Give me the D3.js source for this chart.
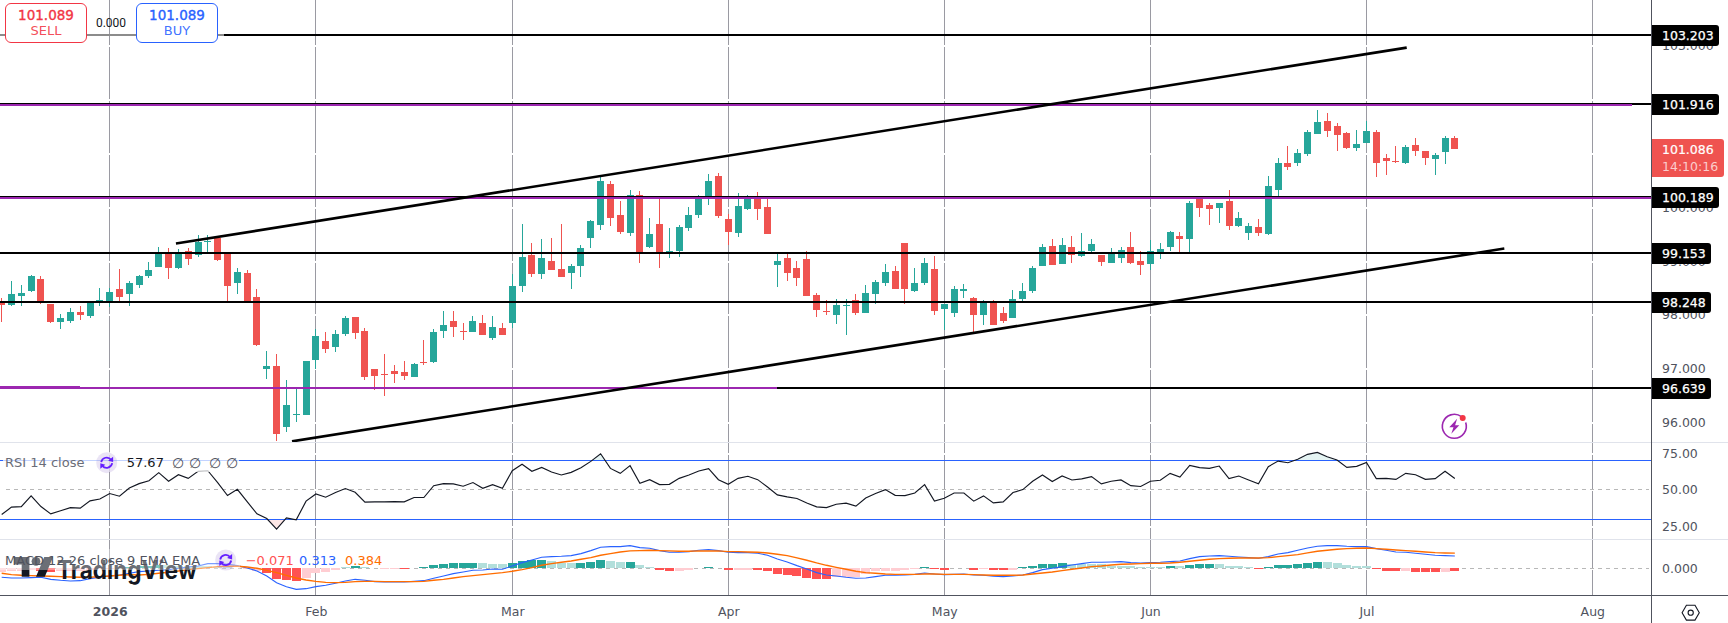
<!DOCTYPE html>
<html>
<head>
<meta charset="utf-8">
<title>DXY daily</title>
<script src="https://cdn.jsdelivr.net/npm/d3@7"></script>
<style>
  html, body { margin: 0; padding: 0; background: #fff; overflow: hidden; }
  svg { display: block; font-family: "DejaVu Sans", sans-serif; }
</style>
</head>
<body>
<svg id="chart" width="1728" height="623"></svg>
<script>
// Daily candles, one row per ten sessions.
const opens = [
  98.240,98.184,98.345,98.438,98.662,98.197,97.862,97.880,98.048,97.973,
  98.252,98.240,98.476,98.383,98.550,98.717,98.885,99.127,98.866,99.182,
  99.108,99.350,99.424,99.139,98.587,98.773,98.327,96.988,97.043,95.927,
  96.132,96.132,97.155,97.508,97.397,97.639,97.955,97.694,96.988,96.895,
  96.950,96.932,96.839,97.119,97.119,97.693,97.879,97.693,97.675,97.842,
  97.563,97.749,97.842,98.530,99.107,98.754,98.995,98.847,98.772,98.902,
  99.423,99.665,100.428,99.851,99.516,100.223,99.256,99.684,99.157,99.181,
  99.609,99.851,100.149,100.576,99.777,99.516,99.963,100.149,100.000,98.921,
  99.051,98.865,99.033,98.363,98.065,97.991,98.158,98.270,98.028,98.382,
  98.586,98.809,99.330,98.437,98.586,98.847,98.103,98.028,98.437,98.307,
  97.991,98.233,98.028,97.935,98.289,98.437,98.902,99.274,98.940,99.256,
  99.088,99.181,99.107,98.958,99.051,99.256,98.995,98.939,99.162,99.255,
  99.459,99.404,100.148,100.036,99.980,100.110,99.645,99.515,99.627,99.497,
  100.315,100.817,100.817,100.985,101.357,101.598,101.505,101.375,101.096,101.189,
  101.394,100.910,100.854,100.817,101.152,101.040,100.892,101.022,101.282
];
const highs = [
  98.308,98.624,98.550,98.736,98.717,98.197,98.011,98.122,98.159,98.215,
  98.494,98.494,98.848,98.624,98.736,98.978,99.257,99.238,99.220,99.238,
  99.480,99.480,99.424,99.139,98.866,98.829,98.476,97.322,97.267,96.783,
  96.616,97.136,97.732,97.676,97.713,97.973,97.955,97.750,96.988,97.267,
  97.062,97.136,97.099,97.528,97.733,98.065,98.065,97.842,97.972,97.991,
  97.972,97.842,98.754,99.684,99.330,99.405,99.423,99.684,98.940,99.293,
  99.758,100.558,100.483,100.111,100.316,100.297,99.795,100.149,99.609,99.665,
  100.000,100.223,100.614,100.632,99.870,100.260,100.223,100.279,100.149,99.138,
  99.126,98.995,99.181,98.400,98.270,98.289,98.289,98.382,98.549,98.642,
  98.940,98.902,99.330,98.865,99.051,99.088,98.196,98.530,98.568,98.326,
  98.270,98.270,98.140,98.456,98.586,98.902,99.312,99.405,99.423,99.460,
  99.516,99.405,99.107,99.237,99.256,99.535,99.181,99.385,99.329,99.552,
  99.534,100.110,100.191,100.073,100.073,100.315,99.906,99.701,99.776,100.575,
  100.910,101.133,101.078,101.431,101.803,101.747,101.561,101.394,101.431,101.598,
  101.431,100.985,101.133,101.152,101.282,101.040,101.003,101.319,101.319
];
const lows = [
  97.868,98.166,98.166,98.420,98.203,97.849,97.738,97.849,97.905,97.942,
  98.166,98.147,98.252,98.166,98.500,98.680,98.885,98.662,98.848,98.922,
  99.071,99.151,98.996,98.252,98.383,98.252,97.415,96.802,95.667,95.834,
  96.002,96.132,96.988,97.285,97.304,97.601,97.546,96.783,96.597,96.485,
  96.727,96.783,96.839,97.064,97.100,97.563,97.582,97.526,97.675,97.619,
  97.526,97.619,97.749,98.419,98.698,98.661,98.828,98.698,98.475,98.698,
  99.237,99.572,99.646,99.498,99.460,98.958,99.237,98.865,99.051,99.070,
  99.553,99.795,100.037,99.795,99.293,99.442,99.944,99.758,99.498,98.512,
  98.623,98.530,98.344,97.954,97.991,97.824,97.619,97.991,98.028,98.196,
  98.530,98.475,98.196,98.419,98.549,97.991,97.712,97.954,98.307,97.675,
  97.805,97.805,97.842,97.935,98.251,98.400,98.902,98.921,98.940,98.958,
  99.070,99.163,98.902,98.958,98.958,98.940,98.735,98.827,99.032,99.180,
  99.162,99.162,99.813,99.664,99.701,99.571,99.627,99.385,99.459,99.478,
  100.203,100.687,100.761,100.947,101.357,101.301,101.040,101.078,101.040,101.189,
  100.557,100.594,100.817,100.799,100.947,100.780,100.594,100.799,101.086
];
const closes = [
  98.184,98.383,98.401,98.717,98.240,97.868,97.936,98.048,97.992,98.215,
  98.271,98.420,98.327,98.587,98.717,98.829,99.127,98.866,99.127,99.034,
  99.350,99.368,99.015,98.531,98.792,98.252,97.434,97.043,95.779,96.318,
  96.151,97.136,97.601,97.360,97.639,97.936,97.657,96.839,96.857,96.876,
  96.895,96.857,97.081,97.100,97.677,97.805,97.768,97.675,97.879,97.619,
  97.768,97.619,98.530,99.070,98.754,99.051,98.828,98.698,98.902,99.237,
  99.739,100.483,99.795,99.535,100.223,99.163,99.498,99.163,99.181,99.628,
  99.851,100.149,100.483,99.832,99.535,100.018,100.149,99.963,99.498,98.995,
  98.772,98.679,98.344,98.084,98.047,98.177,98.177,98.028,98.400,98.605,
  98.791,98.475,98.475,98.586,98.958,98.065,98.196,98.475,98.475,97.991,
  98.233,97.805,97.879,98.289,98.437,98.865,99.256,98.921,99.293,99.107,
  99.181,99.312,98.977,99.126,99.200,98.958,98.921,99.180,99.218,99.534,
  99.404,100.073,99.980,99.962,100.073,99.645,99.794,99.645,99.515,100.390,
  100.817,100.743,101.003,101.394,101.580,101.412,101.338,101.096,101.171,101.412,
  100.817,100.854,100.836,101.115,101.040,100.910,100.966,101.282,101.086
];

// RSI(14) per session.
const rsiValues = [
  33.1,38.1,38.5,45.8,38.5,33.5,35.6,37.8,37.4,42.4,
  43.7,47.4,45.6,51.2,54.2,56.2,61.7,55.8,60.3,57.8,
  62.6,63.0,54.9,46.0,50.3,41.9,33.5,30.3,23.1,30.8,
  29.4,42.2,47.1,44.9,48.1,50.8,48.3,41.5,41.7,41.7,
  41.9,41.7,44.7,44.7,52.8,54.2,54.0,52.4,54.9,51.0,
  53.5,51.0,63.0,67.4,62.6,65.3,62.1,60.1,61.9,65.1,
  69.4,74.6,64.6,61.2,66.5,54.4,56.9,53.5,53.7,57.8,
  60.1,62.8,64.4,56.9,53.7,57.8,59.2,56.9,51.9,46.5,
  45.1,44.0,41.0,38.3,37.8,40.1,40.8,38.8,44.4,47.4,
  50.1,46.2,46.0,47.8,53.5,42.2,44.2,47.8,47.8,42.2,
  45.8,41.0,41.7,48.1,50.1,55.8,60.1,55.6,59.4,56.7,
  57.4,59.0,54.0,55.8,56.7,52.8,52.2,55.8,56.5,61.2,
  58.7,66.7,65.1,64.6,66.2,57.6,59.4,56.7,54.0,65.8,
  69.6,68.5,70.8,74.2,75.5,72.6,70.3,65.3,66.0,68.7,
  57.6,57.8,57.1,61.2,60.3,57.1,57.6,62.6,57.67
];

// MACD(12, 26, 9) line, signal line and histogram.
const macdLine = [
  -.229,-.246,-.246,-.237,-.229,-.280,-.305,-.322,-.314,-.263,
  -.229,-.195,-.169,-.127,-.085,-.068,-.051,-.034,0,.034,
  .059,.119,.119,.102,.068,.008,-.068,-.195,-.364,-.466,
  -.534,-.517,-.466,-.432,-.381,-.322,-.280,-.305,-.339,-.347,
  -.347,-.347,-.331,-.314,-.254,-.195,-.136,-.093,-.051,-.042,
  -.017,-.025,.059,.144,.212,.280,.297,.305,.322,.373,
  .449,.534,.551,.551,.576,.525,.508,.449,.407,.407,
  .424,.458,.475,.449,.407,.398,.398,.381,.331,.237,
  .161,.068,-.017,-.110,-.169,-.195,-.229,-.254,-.246,-.212,
  -.178,-.178,-.169,-.153,-.119,-.144,-.161,-.153,-.144,-.169,
  -.178,-.203,-.212,-.195,-.169,-.110,-.034,0,.042,.085,
  .119,.153,.153,.161,.169,.144,.136,.144,.153,.169,
  .186,.246,.297,.314,.322,.305,.288,.271,.254,.297,
  .364,.398,.458,.517,.559,.576,.576,.559,.551,.551,
  .500,.458,.415,.407,.381,.356,.331,.322,.313
];
const signalLine = [
  -.127,-.161,-.178,-.186,-.195,-.203,-.212,-.220,-.229,-.229,
  -.212,-.195,-.178,-.161,-.169,-.153,-.127,-.102,-.068,-.034,
  -.008,.017,.042,.051,.051,.034,0,-.051,-.110,-.178,
  -.246,-.297,-.331,-.356,-.364,-.356,-.339,-.331,-.331,-.339,
  -.339,-.339,-.339,-.331,-.305,-.280,-.246,-.212,-.186,-.161,
  -.136,-.110,-.076,-.034,.017,.076,.119,.153,.186,.229,
  .271,.331,.373,.415,.441,.449,.458,.449,.441,.432,
  .432,.441,.441,.441,.424,.424,.415,.407,.390,.356,
  .322,.263,.203,.136,.076,.025,-.025,-.076,-.110,-.127,
  -.144,-.153,-.153,-.153,-.144,-.144,-.153,-.153,-.153,-.161,
  -.169,-.178,-.178,-.178,-.169,-.144,-.119,-.093,-.059,-.025,
  .008,.042,.059,.085,.102,.110,.119,.127,.127,.136,
  .153,.178,.203,.229,.246,.254,.263,.263,.263,.271,
  .297,.322,.347,.390,.432,.458,.483,.500,.508,.517,
  .500,.483,.466,.449,.432,.415,.398,.390,.384
];
const histValues = [
  -.102,-.068,-.059,-.042,-.068,-.085,-.076,-.068,-.059,-.042,
  -.025,-.008,.017,.034,.051,.068,.076,.076,.068,.059,
  .059,.059,.042,.034,.017,-.017,-.076,-.127,-.280,-.297,
  -.322,-.237,-.127,-.085,-.042,.025,.059,.034,.008,-.008,
  -.008,-.008,.017,.034,.076,.110,.136,.136,.136,.127,
  .110,.102,.127,.178,.212,.212,.178,.136,.136,.127,
  .161,.212,.178,.161,.161,.085,.034,-.042,-.059,-.068,
  -.034,.008,.034,.008,-.042,-.034,-.034,-.034,-.068,-.144,
  -.169,-.195,-.246,-.271,-.271,-.229,-.229,-.229,-.144,-.076,
  -.059,-.059,-.034,-.017,.034,-.017,-.034,.008,.008,-.034,
  -.017,-.034,-.034,-.034,.034,.059,.110,.110,.136,.110,
  .102,.110,.119,.059,.068,.059,.034,.034,.034,.059,
  .059,.085,.110,.110,.110,.059,.059,.034,-.017,.034,
  .085,.085,.110,.136,.161,.161,.136,.085,.059,.059,
  -.017,-.068,-.068,-.068,-.093,-.093,-.093,-.093,-.071
];
// Bar shade per session: t rising above zero, l falling above zero, r falling below zero, p rising below zero.
const histShades = (
  "pppprrpppp" + "pptttttlll" + "lllllpprrr" + "rppppltllp" + "prtttttttl" +
  "llttttlllt" + "ttlltllrrp" + "pttlrpprrr" + "rrrrrppppp" + "pppptrrttr" +
  "prrptttttl" + "lllllllllt" + "ltttllllrt" + "tttttlllll" + "rrrprrrpr"
).split("");

// Session index of each month boundary on the time axis.
const monthLabels = ["2026", "Feb", "Mar", "Apr", "May", "Jun", "Jul", "Aug"];
const monthSessions = [11, 32, 52, 74, 96, 117, 139, 162];

// 101 and 102 keep their grid rows but their labels sit behind price tags, so they carry none.
const priceGridRows = [103, 102, 101, 100, 99, 98, 97, 96];
const priceTicks = [103, 100, 99, 98, 97, 96];
const rsiTicks = [75, 50, 25];
const macdTicks = [0];

// Horizontal support and resistance levels.
const levels = [103.203, 101.916, 100.189, 99.153, 98.248, 96.639];
const lastPrice = 101.086;
const barCountdown = "14:10:16";
const quote = 101.089;
const spread = 0;

// Rising channel: [session, price] end points.
const channelUpper = [[17.75, 99.326], [143.1, 102.967]];
const channelLower = [[29.57, 95.651], [153.04, 99.233]];

// Purple marker lines that sit right beside the black levels.
const purpleLevels = [
  { price: 101.898, from: -0.2, to: 166 },
  { price: 100.170, from: -0.2, to: 168 },
  { price: 96.639, from: -0.2, to: 79 },
  { price: 96.655, from: -0.2, to: 8 }
];

const GREEN = "#26a69a", RED = "#ef5350", BLUE = "#2962ff", ORANGE = "#ff6d00",
      PURPLE = "#9c27b0", GRID = "#9a9aa2", SEP = "#e0e3eb", AXIS = "#50535e", INK = "#131722";
const PANE_RIGHT = 1651, MAIN_BOTTOM = 442, RSI_BOTTOM = 539, MACD_BOTTOM = 595;
const shadeColor = { t: GREEN, l: "#b2dfdb", r: "#ff5252", p: "#ffcdd2" };

const x = d3.scaleLinear().domain([0, 162]).range([1.67, 1592.3]);
const yPrice = d3.scaleLinear().domain([103.203, 96.639]).range([34.9, 388.2]);
const yRsi = d3.scaleLinear().domain([70, 30]).range([460.5, 519]);
const yMacd = d3.scaleLinear().domain([0, 1]).range([568.3, 528.9]);
const px = i => Math.floor(x(i));
const crisp = v => Math.floor(v) + 0.5;

const svg = d3.select("#chart");
const defs = svg.append("defs");
function clip(id, xx, yy, w, h) {
  defs.append("clipPath").attr("id", id).append("rect").attr("x", xx).attr("y", yy).attr("width", w).attr("height", h);
}
clip("main-pane", 0, 0, PANE_RIGHT, MAIN_BOTTOM);
clip("above-70", 0, 442, PANE_RIGHT, yRsi(70) - 442);
clip("below-30", 0, yRsi(30), PANE_RIGHT, 539 - yRsi(30));

const hline = (g, y, x1, x2, color, w) => g.append("line")
  .attr("x1", x1).attr("x2", x2).attr("y1", y).attr("y2", y)
  .attr("stroke", color).attr("stroke-width", w).attr("shape-rendering", "crispEdges");

// Grid: month lines, broken by white value rows in each pane.
const grid = svg.append("g");
grid.selectAll("line").data(monthSessions).join("line")
  .attr("x1", d => crisp(x(d))).attr("x2", d => crisp(x(d)))
  .attr("y1", 0).attr("y2", MACD_BOTTOM)
  .attr("stroke", GRID).attr("stroke-width", 1).attr("shape-rendering", "crispEdges");
priceGridRows.forEach(p => hline(grid, crisp(yPrice(p)), 0, PANE_RIGHT, "#fff", 2));
rsiTicks.forEach(p => hline(grid, crisp(yRsi(p)), 0, PANE_RIGHT, "#fff", 2));
macdTicks.forEach(p => hline(grid, crisp(yMacd(p)), 0, PANE_RIGHT, "#fff", 2));

// Candles.
const candles = svg.append("g").attr("clip-path", "url(#main-pane)").attr("shape-rendering", "crispEdges");
const sessions = d3.range(closes.length);
const tone = i => closes[i] >= opens[i] ? GREEN : RED;
candles.selectAll("rect.wick").data(sessions).join("rect").attr("class", "wick")
  .attr("x", px).attr("width", 1)
  .attr("y", i => yPrice(highs[i]))
  .attr("height", i => yPrice(lows[i]) - yPrice(highs[i]))
  .attr("fill", tone);
candles.selectAll("rect.body").data(sessions).join("rect").attr("class", "body")
  .attr("x", i => px(i) - 3).attr("width", 7)
  .attr("y", i => yPrice(Math.max(opens[i], closes[i])))
  .attr("height", i => Math.max(1, Math.abs(yPrice(opens[i]) - yPrice(closes[i]))))
  .attr("fill", tone);

// Drawn levels and channel.
const drawings = svg.append("g").attr("clip-path", "url(#main-pane)");
const rowOf = p => Math.round(yPrice(p));
hline(drawings, rowOf(103.203), 0, 224, "#8c8c8c", 2);
hline(drawings, rowOf(103.203), 224, PANE_RIGHT, "#000", 2);
hline(drawings, rowOf(101.916), 0, PANE_RIGHT, "#000", 2);
hline(drawings, rowOf(100.189), 0, PANE_RIGHT, "#000", 2);
hline(drawings, rowOf(99.153), 0, PANE_RIGHT, "#000", 2);
hline(drawings, rowOf(98.248), 0, PANE_RIGHT, "#000", 2);
hline(drawings, rowOf(96.639), x(79), PANE_RIGHT, "#000", 2);
purpleLevels.forEach(l => hline(drawings, rowOf(l.price), x(l.from), x(l.to), PURPLE, 2));
const segment = d3.line().x(d => x(d[0])).y(d => yPrice(d[1]));
[channelUpper, channelLower].forEach(c => drawings.append("path")
  .attr("d", segment(c)).attr("fill", "none").attr("stroke", "#000").attr("stroke-width", 2.6));

// Alert badge on the price pane.
const badge = svg.append("g").attr("transform", "translate(1454.3,426.3)");
badge.append("path").attr("d", "M7.2,-9.6 A12,12 0 1 0 11.4,-3.8")
  .attr("fill", "none").attr("stroke", PURPLE).attr("stroke-width", 1.6);
badge.append("path").attr("d", "M2.8,-7.5 L-5,1 L-0.8,1 L-3,7.5 L5,-1 L0.8,-1 Z").attr("fill", PURPLE);
badge.append("circle").attr("cx", 8.4).attr("cy", -8.3).attr("r", 3).attr("fill", "#f23645");

// RSI pane.
const rsiPane = svg.append("g");
const rsiArea = lvl => d3.area().x((d, i) => x(i)).y0(yRsi(lvl)).y1(d => yRsi(d));
rsiPane.append("path").attr("clip-path", "url(#above-70)").attr("d", rsiArea(70)(rsiValues)).attr("fill", "rgba(38,166,154,.12)");
rsiPane.append("path").attr("clip-path", "url(#below-30)").attr("d", rsiArea(30)(rsiValues)).attr("fill", "rgba(239,83,80,.14)");
hline(rsiPane, crisp(yRsi(70)), 0, PANE_RIGHT, BLUE, 1);
hline(rsiPane, crisp(yRsi(30)), 0, PANE_RIGHT, BLUE, 1);
hline(rsiPane, crisp(yRsi(50)), 6, PANE_RIGHT - 2, "#b8b8b8", 1).attr("stroke-dasharray", "4 4");
rsiPane.append("path")
  .attr("d", d3.line().x((d, i) => x(i)).y(d => yRsi(d))(rsiValues))
  .attr("fill", "none").attr("stroke", INK).attr("stroke-width", 1.15);

// MACD pane.
const macdPane = svg.append("g");
hline(macdPane, crisp(yMacd(0)), 6, PANE_RIGHT - 2, "#b8b8b8", 1).attr("stroke-dasharray", "4 4");
macdPane.selectAll("rect").data(histValues).join("rect")
  .attr("shape-rendering", "crispEdges")
  .attr("x", (d, i) => px(i) - 4).attr("width", 9)
  .attr("y", d => Math.min(yMacd(d), yMacd(0)))
  .attr("height", d => Math.abs(yMacd(d) - yMacd(0)))
  .attr("fill", (d, i) => shadeColor[histShades[i]]);
const macdPath = d3.line().x((d, i) => x(i)).y(d => yMacd(d));
macdPane.append("path").attr("d", macdPath(macdLine)).attr("fill", "none").attr("stroke", BLUE).attr("stroke-width", 1.1);
macdPane.append("path").attr("d", macdPath(signalLine)).attr("fill", "none").attr("stroke", ORANGE).attr("stroke-width", 1.4);

// Platform mark in the lower left corner.
const mark = svg.append("g").attr("fill", INK);
mark.append("path").attr("transform", "translate(14,552.5) scale(1.1)")
  .attr("d", "M14 22H7V11H0V4h14v18zM28 22h-8l7.5-18h8L28 22z");
mark.append("circle").attr("cx", 14 + 20 * 1.1).attr("cy", 552.5 + 8 * 1.1).attr("r", 4.4);
mark.append("text").attr("x", 57).attr("y", 578.5)
  .attr("font-family", "Inter, Roboto, sans-serif").attr("font-weight", 700).attr("font-size", 25)
  .attr("textLength", 140).attr("lengthAdjust", "spacingAndGlyphs").text("TradingView");

// Indicator legends.
function refreshIcon(cx, cy) {
  const g = svg.append("g").attr("transform", `translate(${cx},${cy})`);
  g.append("circle").attr("r", 10.5).attr("fill", "#7e57c2").attr("fill-opacity", 0.16);
  g.append("path").attr("d", "M-5.5,-0.5 A5.6,5.6 0 0 1 4.4,-3").attr("fill", "none").attr("stroke", "#651fff").attr("stroke-width", 1.8);
  g.append("path").attr("d", "M5.5,0.5 A5.6,5.6 0 0 1 -4.4,3").attr("fill", "none").attr("stroke", "#651fff").attr("stroke-width", 1.8);
  g.append("path").attr("d", "M6.4,-6 L6.4,-0.6 L1.4,-2 Z").attr("fill", "#651fff");
  g.append("path").attr("d", "M-6.4,6 L-6.4,0.6 L-1.4,2 Z").attr("fill", "#651fff");
}
const legendText = (xx, yy, str, color) => svg.append("text")
  .attr("x", xx).attr("y", yy).attr("dy", "0.35em").attr("font-size", 13).attr("fill", color).text(str);

svg.append("rect").attr("x", 3).attr("y", 452).attr("width", 236).attr("height", 20).attr("fill", "#fff").attr("fill-opacity", 0.72);
legendText(5, 462.7, "RSI 14 close", "#6a6d78");
refreshIcon(106.7, 462.7);
legendText(126.7, 462.7, d3.format(".2f")(rsiValues[rsiValues.length - 1]), INK);
[173, 190, 210, 227].forEach(xx => legendText(xx - 1, 462.7, "∅", "#50535e").attr("font-size", 14));

svg.append("rect").attr("x", 0).attr("y", 549).attr("width", 240).attr("height", 21).attr("fill", "#fff").attr("fill-opacity", 0.38);
legendText(5, 560, "MACD 12 26 close 9 EMA EMA", "#50535e");
refreshIcon(225.7, 560);
legendText(245.7, 560, "−0.071", "#ff5252");
legendText(299, 560, d3.format(".3f")(macdLine[macdLine.length - 1]), BLUE);
legendText(345, 560, d3.format(".3f")(signalLine[signalLine.length - 1]), ORANGE);

// Pane separators and frame.
hline(svg, 442.5, 0, 1728, SEP, 1);
hline(svg, 539.5, 0, 1728, SEP, 1);
hline(svg, 595.5, 0, 1728, AXIS, 1);

// Value axes.
function valueAxis(scale, ticks, fmt) {
  const g = svg.append("g").attr("transform", `translate(${PANE_RIGHT},0)`)
    .call(d3.axisRight(scale).tickValues(ticks).tickFormat(d3.format(fmt)).tickSize(0).tickPadding(11));
  g.select(".domain").remove();
  g.selectAll("text").attr("font-family", "DejaVu Sans").attr("font-size", 12.5).attr("fill", AXIS);
}
valueAxis(yPrice, priceTicks, ".3f");
valueAxis(yRsi, rsiTicks, ".2f");
valueAxis(yMacd, macdTicks, ".3f");

// Time axis.
const timeAxis = svg.append("g").attr("transform", `translate(0,${MACD_BOTTOM})`)
  .call(d3.axisBottom(x).tickValues(monthSessions)
    .tickFormat(d => monthLabels[monthSessions.indexOf(d)]).tickSize(0).tickPadding(12));
timeAxis.select(".domain").remove();
timeAxis.selectAll("text").attr("font-family", "DejaVu Sans").attr("font-size", 12.5).attr("fill", AXIS)
  .attr("font-weight", d => d === 11 ? 700 : 400);

// Price tags on the value axis.
function tagPath(x0, y0, w, h) {
  const r = 3, p = d3.path();
  p.moveTo(x0, y0);
  p.lineTo(x0 + w - r, y0);
  p.arcTo(x0 + w, y0, x0 + w, y0 + r, r);
  p.lineTo(x0 + w, y0 + h - r);
  p.arcTo(x0 + w, y0 + h, x0 + w - r, y0 + h, r);
  p.lineTo(x0, y0 + h);
  p.closePath();
  return p.toString();
}
const fmt3 = d3.format(".3f");
levels.forEach(v => {
  const row = rowOf(v), label = fmt3(v);
  svg.append("path").attr("d", tagPath(PANE_RIGHT + 1, row - 10, label.length === 7 ? 67 : 59, 21)).attr("fill", "#000");
  svg.append("text").attr("x", 1662).attr("y", row + 1).attr("dy", "0.35em")
    .attr("font-size", 12.5).attr("fill", "#fff").attr("stroke", "#fff").attr("stroke-width", 0.25).text(label);
});
svg.append("path").attr("d", tagPath(PANE_RIGHT + 1, 139, 72, 38)).attr("fill", RED);
svg.append("text").attr("x", 1662).attr("y", 150).attr("dy", "0.35em").attr("font-size", 12.5)
  .attr("fill", "#fff").attr("stroke", "#fff").attr("stroke-width", 0.2).text(fmt3(lastPrice));
svg.append("text").attr("x", 1662).attr("y", 167).attr("dy", "0.35em").attr("font-size", 12.5).attr("fill", "#fff").attr("fill-opacity", 0.72).text(barCountdown);

// Axis rule.
svg.append("line").attr("x1", PANE_RIGHT + 0.5).attr("x2", PANE_RIGHT + 0.5).attr("y1", 0).attr("y2", 623)
  .attr("stroke", AXIS).attr("stroke-width", 1).attr("shape-rendering", "crispEdges");

// Settings button.
const gear = svg.append("g").attr("transform", "translate(1690.7,612.7)")
  .attr("fill", "none").attr("stroke", INK).attr("stroke-width", 1.1);
gear.append("path").attr("d", d3.line()(d3.range(6).map(k => {
  const a = k * Math.PI / 3;
  return [8.6 * Math.cos(a), 8.6 * Math.sin(a)];
})) + "Z");
gear.append("circle").attr("r", 2.6);

// Quick trade widget.
function tradeButton(cx, color, side) {
  svg.append("rect").attr("x", cx - 40.5).attr("y", 3.5).attr("width", 81).attr("height", 39).attr("rx", 5.5)
    .attr("fill", "#fff").attr("stroke", color).attr("stroke-width", 1);
  svg.append("text").attr("x", cx).attr("y", 15.5).attr("dy", "0.35em").attr("text-anchor", "middle")
    .attr("font-size", 13.5).attr("fill", color).attr("stroke", color).attr("stroke-width", 0.35).text(fmt3(quote));
  svg.append("text").attr("x", cx).attr("y", 30.5).attr("dy", "0.35em").attr("text-anchor", "middle")
    .attr("font-size", 13).attr("fill", color).attr("fill-opacity", 0.9).text(side);
}
tradeButton(46, "#f23645", "SELL");
tradeButton(177, BLUE, "BUY");
svg.append("text").attr("x", 111).attr("y", 22.5).attr("dy", "0.35em").attr("text-anchor", "middle")
  .attr("font-family", "Roboto, sans-serif").attr("font-size", 12).attr("fill", INK).text(fmt3(spread));
</script>
</body>
</html>
